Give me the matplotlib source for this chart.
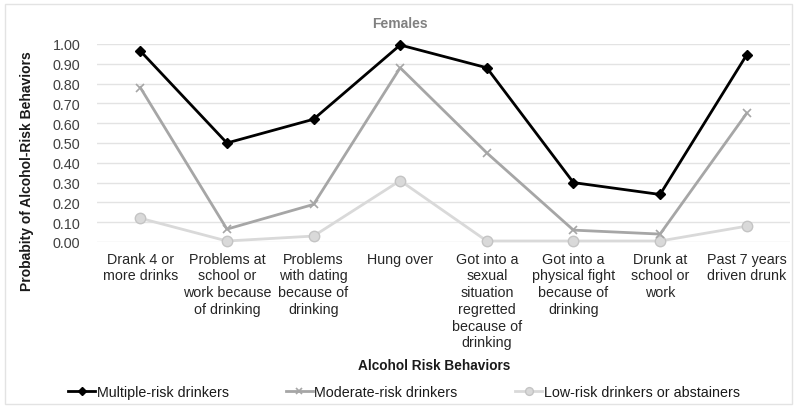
import matplotlib
matplotlib.use("Agg")
import matplotlib.pyplot as plt

categories = [
    "Drank 4 or\nmore drinks",
    "Problems at\nschool or\nwork because\nof drinking",
    "Problems\nwith dating\nbecause of\ndrinking",
    "Hung over",
    "Got into a\nsexual\nsituation\nregretted\nbecause of\ndrinking",
    "Got into a\nphysical fight\nbecause of\ndrinking",
    "Drunk at\nschool or\nwork",
    "Past 7 years\ndriven drunk",
]
multiple_risk = [0.965, 0.50, 0.62, 0.995, 0.88, 0.30, 0.24, 0.945]
moderate_risk = [0.78, 0.065, 0.19, 0.88, 0.45, 0.06, 0.04, 0.65]
low_risk = [0.12, 0.005, 0.03, 0.31, 0.005, 0.005, 0.005, 0.08]
yticks = [0.0, 0.1, 0.2, 0.3, 0.4, 0.5, 0.6, 0.7, 0.8, 0.9, 1.0]

plt.rcParams["font.family"] = ["Liberation Sans", "DejaVu Sans"]

W, H = 800, 410
fig = plt.figure(figsize=(8, 4.1), dpi=100)
ax = fig.add_axes([97/W, 1-243/H, (790-97)/W, (243-45)/H])

x = list(range(len(categories)))
ax.plot(x, multiple_risk, color="black", lw=2, marker="D", ms=5, label="Multiple-risk drinkers", clip_on=False, zorder=5)
ax.plot(x, moderate_risk, color="#a6a6a6", lw=2, marker="x", ms=6, mew=1.2, label="Moderate-risk drinkers", clip_on=False, zorder=4)
ax.plot(x, low_risk, color="#d9d9d9", lw=2, marker="o", ms=7.5, mfc="#d9d9d9", mec="#c4c4c4", label="Low-risk drinkers or abstainers", clip_on=False, zorder=3)

ax.set_xlim(-0.5, len(categories)-0.5)
ax.set_ylim(0, 1.0)
ax.set_yticks(yticks)
ax.set_yticklabels([f"{v:.2f}" for v in yticks], fontsize=10.4, color="#404040")
ax.set_xticks(x)
ax.set_xticklabels(categories, fontsize=10.3, color="#262626", linespacing=1.25)
ax.tick_params(length=0)
ax.tick_params(axis="x", pad=7)
ax.tick_params(axis="y", pad=12)
ax.grid(axis="y", color="#e3e3e3", lw=1)
ax.set_axisbelow(True)
for s in ax.spines.values():
    s.set_visible(False)

fig.text(400/W, 1-24/H, "Females", ha="center", va="center", fontsize=10, fontweight="bold", color="#808080")
fig.text(434/W, 1-366/H, "Alcohol Risk Behaviors", ha="center", va="center", fontsize=9.8, fontweight="bold", color="#1a1a1a")
fig.text(27/W, 1-171/H, "Probabity of Alcohol-Risk Behaviors", ha="center", va="center", rotation=90, fontsize=10, fontweight="bold", color="#1a1a1a")

leg = fig.legend(loc="center left", bbox_to_anchor=(68/W, 1-393/H), ncol=3, frameon=False,
                 prop={"size": 10.3}, handlelength=1.9, handletextpad=0.1, columnspacing=4.0,
                 borderpad=0, borderaxespad=0, markerscale=0.75)
for t in leg.get_texts():
    t.set_color("#1a1a1a")

border = plt.Rectangle((5/W, 5/H), 787/W, 400/H, transform=fig.transFigure, fill=False, ec="#e3e3e3", lw=1)
fig.add_artist(border)

fig.savefig("out.png", dpi=100)
